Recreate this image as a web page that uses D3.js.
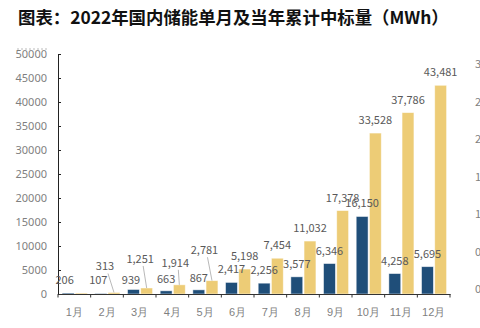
<!DOCTYPE html>
<html>
<head>
<meta charset="utf-8">
<script src="https://cdnjs.cloudflare.com/ajax/libs/d3/7.8.5/d3.min.js"></script>
<style>
  body { margin: 0; background: #fff; }
  svg { display: block; font-family: "Noto Sans CJK SC", "Noto Sans", sans-serif; }
</style>
</head>
<body>
<script>
// data
var months = ["1月", "2月", "3月", "4月", "5月", "6月", "7月", "8月", "9月", "10月", "11月", "12月"];
var monthly = [206, 107, 939, 663, 867, 2417, 2256, 3577, 6346, 16150, 4258, 5695];
var cumulative = [206, 313, 1251, 1914, 2781, 5198, 7454, 11032, 17378, 33528, 37786, 43481];
var leftTicks = [0, 5000, 10000, 15000, 20000, 25000, 30000, 35000, 40000, 45000, 50000];
var rightTicks = [0, 0.5, 1, 1.5, 2, 2.5, 3];

(function(){
    var width = 480,
        height = 328;

    var svg = d3.select("body").append("svg")
                .attr("width", width)
                .attr("height", height);

    // title
    svg.append("text")
       .attr("x", 18)
       .attr("y", 16)
       .attr("dominant-baseline", "central")
       .attr("font-size", 17.4)
       .attr("font-weight", "bold")
       .attr("fill", "#111")
       .text("图表：2022年国内储能单月及当年累计中标量（MWh）");

    svg.append("line")
       .attr("x1", 17).attr("x2", 47)
       .attr("y1", 49).attr("y2", 49)
       .attr("stroke", "#bbb")
       .attr("stroke-dasharray", "2,2");

    var x = d3.scaleBand().domain(months).range([58, 450]);
    var bw = x.bandwidth();
    var x1 = d3.scaleBand().domain(["m", "c"]).range([4.2, bw - 3.4]).paddingInner(0.1);
    var y = d3.scaleLinear().domain([0, 50000]).range([294, 54]);
    var yR = d3.scaleLinear().domain([0, 3]).range([288, 63]);

    var series = [
        {key: "m", values: monthly, color: "#1F4E79"},
        {key: "c", values: cumulative, color: "#EDCC76"}
    ];

    series.forEach(function(s){
        svg.append("g").selectAll("rect")
           .data(s.values)
           .enter().append("rect")
           .attr("x", function(d, i){ return x(months[i]) + x1(s.key); })
           .attr("y", function(d){ return y(d); })
           .attr("width", x1.bandwidth())
           .attr("height", function(d){ return y(0) - y(d); })
           .attr("fill", s.color)
           .attr("stroke", "#fff")
           .attr("stroke-opacity", 0.6)
           .attr("stroke-width", 0.8);
    });

    // left axis
    var yAxis = d3.axisLeft(y)
                  .tickValues(leftTicks)
                  .tickFormat(d3.format("d"))
                  .tickSizeInner(-3)
                  .tickSizeOuter(0)
                  .tickPadding(11);
    var gy = svg.append("g").attr("transform", "translate(58,0)").call(yAxis);
    gy.select(".domain").attr("stroke", "#222");
    gy.selectAll(".tick line").attr("stroke", "#222");
    gy.selectAll("text").attr("font-size", 11).attr("fill", "#7f7f7f")
      .attr("font-family", "\"Noto Sans\", sans-serif");

    // x axis
    var xAxis = d3.axisBottom(x).tickSize(0).tickPadding(14);
    var gx = svg.append("g").attr("transform", "translate(0,294)").call(xAxis);
    gx.select(".domain").attr("stroke", "#333").attr("stroke-width", 1.2);
    gx.selectAll("text").attr("font-size", 11).attr("fill", "#7f7f7f");

    var edges = months.map(function(m){ return x(m); }).concat([x.range()[1]]);
    gx.selectAll(".edge")
      .data(edges)
      .enter().append("line")
      .attr("class", "edge")
      .attr("x1", function(d){ return d; })
      .attr("x2", function(d){ return d; })
      .attr("y1", 0).attr("y2", 3.5)
      .attr("stroke", "#333");

    // right axis (mostly off the page)
    svg.append("g").selectAll("text")
       .data(rightTicks)
       .enter().append("text")
       .attr("x", 475)
       .attr("y", function(d){ return yR(d); })
       .attr("dominant-baseline", "central")
       .attr("font-size", 11)
       .attr("fill", "#7f7f7f")
       .text(d3.format(".1f"));

    // data labels
    var fmt = d3.format(",");
    var monthlyNudge = [[-3.5, 0], [-2.5, 0], [-2.5, 3.5], [0, 1], [0, 1]];
    var cumNudge = [null, [-9, -13], [-6.5, -16], [-4, -9], [-7.5, -17.4]];

    var labels = svg.append("g")
                    .attr("font-size", 11)
                    .attr("fill", "#595959")
                    .attr("text-anchor", "middle");

    monthly.forEach(function(v, i){
        var n = monthlyNudge[i] || [0, 0];
        labels.append("text")
              .attr("x", x(months[i]) + x1("m") + x1.bandwidth() / 2 + n[0])
              .attr("y", y(v) - 14 + n[1])
              .attr("dominant-baseline", "central")
              .text(fmt(v));
    });

    cumulative.forEach(function(v, i){
        if (i === 0) return; // hidden under the 1月 monthly label
        var n = cumNudge[i] || [0, 0];
        var cx = x(months[i]) + x1("c") + x1.bandwidth() / 2;
        var lx = cx + n[0], ly = y(v) - 14 + n[1];
        if (cumNudge[i]) {
            svg.append("line")
               .attr("x1", lx + 3).attr("y1", ly + 8)
               .attr("x2", cx).attr("y2", y(v))
               .attr("stroke", "#a6a6a6")
               .attr("stroke-width", 0.8);
        }
        labels.append("text")
              .attr("x", lx)
              .attr("y", ly)
              .attr("dominant-baseline", "central")
              .text(fmt(v));
    });
})();
</script>
</body>
</html>
